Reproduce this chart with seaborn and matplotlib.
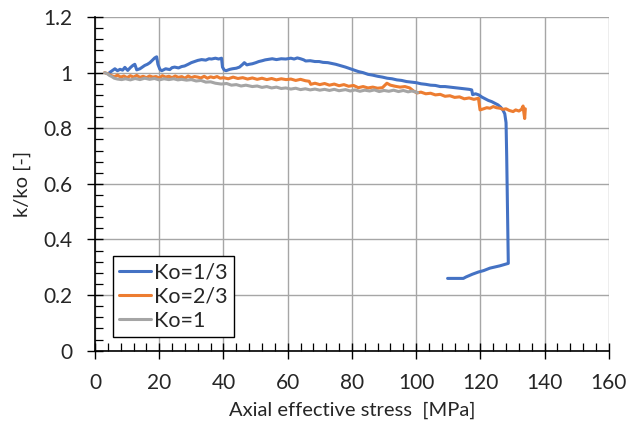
import numpy as np
import pandas as pd
import matplotlib
matplotlib.use("Agg")
import matplotlib.pyplot as plt
import seaborn as sns
from matplotlib.ticker import MultipleLocator

# ---------------- data ----------------
blue_x = [4.5, 5.5, 6.2, 7.0, 7.8, 8.6, 9.3, 10.2, 11.0, 11.8, 12.4, 13.0, 14.0, 15.0, 15.5,
          16.3, 17.1, 17.9, 18.6, 19.2, 19.6, 20.2, 20.8, 22.0, 23.3, 24.0, 24.8, 26.0, 27.0,
          27.9, 29.0, 30.0, 31.0, 32.0, 33.2, 34.5, 35.5, 36.3, 37.5, 38.5, 39.4, 39.7, 40.2,
          40.8, 42.0, 42.8, 44.0, 45.0, 46.0, 46.5, 47.3, 48.0, 49.0, 50.1, 51.0, 52.1, 53.0,
          54.0, 55.2, 56.5, 58.0, 59.4, 61.0, 62.0, 63.0, 64.0, 65.0, 65.6, 67.0, 68.5, 69.8,
          71.0, 72.5, 73.8, 75.0, 76.5, 78.0, 79.0, 80.6, 82.0, 83.5, 85.0, 86.5, 88.0, 89.5,
          91.0, 92.5, 94.0, 95.5, 97.0, 98.5, 100.0, 101.5, 103.0, 104.5, 106.0, 107.5, 109.0,
          110.5, 112.0, 113.5, 115.0, 116.5, 117.3, 117.6, 118.5, 119.5, 120.5, 121.5, 122.5,
          123.5, 124.5, 125.5, 126.3, 127.0, 127.6, 128.0, 128.2, 128.4, 128.6, 128.7, 126.0,
          123.0, 121.0, 119.4, 117.5, 115.5, 114.7, 112.0, 109.8]
blue_y = [1.000, 1.008, 1.014, 1.007, 1.012, 1.009, 1.019, 1.008, 1.018, 1.026, 1.030, 1.010,
          1.014, 1.022, 1.026, 1.030, 1.036, 1.045, 1.053, 1.057, 1.030, 1.012, 1.007, 1.014,
          1.011, 1.018, 1.020, 1.017, 1.022, 1.024, 1.030, 1.036, 1.040, 1.044, 1.047, 1.045,
          1.050, 1.049, 1.052, 1.049, 1.052, 1.020, 1.010, 1.007, 1.012, 1.014, 1.016, 1.020,
          1.030, 1.036, 1.028, 1.030, 1.032, 1.036, 1.040, 1.043, 1.046, 1.048, 1.050, 1.047,
          1.050, 1.049, 1.052, 1.049, 1.053, 1.050, 1.046, 1.042, 1.043, 1.040, 1.040, 1.037,
          1.036, 1.033, 1.030, 1.025, 1.020, 1.016, 1.010, 1.004, 1.000, 0.994, 0.991, 0.987,
          0.984, 0.980, 0.978, 0.974, 0.972, 0.968, 0.966, 0.964, 0.960, 0.958, 0.955, 0.954,
          0.950, 0.950, 0.948, 0.946, 0.944, 0.942, 0.940, 0.938, 0.921, 0.924, 0.920, 0.912,
          0.906, 0.900, 0.896, 0.890, 0.884, 0.876, 0.866, 0.852, 0.820, 0.700, 0.550, 0.400,
          0.314, 0.305, 0.297, 0.288, 0.283, 0.275, 0.265, 0.260, 0.260, 0.260]

orange_x = [3.0, 4.0, 5.0, 6.0, 7.0, 8.0, 9.0, 10.0, 11.0, 12.0, 13.0, 14.0, 15.0, 16.0, 17.0,
            18.0, 19.0, 20.0, 21.0, 22.0, 23.0, 24.0, 25.0, 26.0, 27.0, 28.0, 29.0, 30.0, 31.0,
            32.0, 33.0, 34.0, 35.0, 36.0, 37.0, 38.0, 39.0, 40.0, 41.5, 43.0, 44.5, 46.0, 47.5,
            49.0, 50.5, 52.0, 53.5, 55.0, 56.5, 58.0, 59.5, 61.0, 62.5, 64.0, 65.5, 66.7, 67.2,
            68.5, 70.0, 71.5, 73.0, 74.5, 76.0, 77.5, 79.0, 80.5, 82.0, 83.5, 85.0, 86.5, 88.0,
            89.5, 90.9, 92.0, 93.5, 95.0, 96.5, 98.0, 99.2, 100.3, 101.5, 103.0, 104.5, 106.0,
            107.5, 109.0, 110.5, 112.0, 113.5, 115.0, 116.5, 118.0, 119.4, 119.9, 121.0, 122.0,
            123.0, 124.0, 125.0, 126.1, 127.0, 128.0, 129.0, 130.2, 131.0, 132.0, 132.8, 133.3,
            133.5, 133.8, 134.0]
orange_y = [1.000, 0.996, 0.990, 0.985, 0.991, 0.984, 0.988, 0.982, 0.989, 0.984, 0.990, 0.983,
            0.987, 0.982, 0.988, 0.984, 0.986, 0.981, 0.989, 0.984, 0.987, 0.982, 0.988, 0.983,
            0.986, 0.980, 0.988, 0.982, 0.986, 0.984, 0.981, 0.987, 0.980, 0.985, 0.982, 0.986,
            0.980, 0.982, 0.978, 0.984, 0.979, 0.982, 0.977, 0.981, 0.976, 0.980, 0.975, 0.979,
            0.974, 0.978, 0.975, 0.977, 0.972, 0.976, 0.971, 0.969, 0.958, 0.962, 0.957, 0.961,
            0.955, 0.959, 0.953, 0.957, 0.951, 0.954, 0.946, 0.950, 0.945, 0.948, 0.944, 0.946,
            0.962, 0.955, 0.951, 0.948, 0.950, 0.945, 0.934, 0.927, 0.930, 0.924, 0.926, 0.920,
            0.922, 0.915, 0.917, 0.911, 0.913, 0.906, 0.909, 0.904, 0.908, 0.866, 0.870, 0.874,
            0.872, 0.878, 0.874, 0.872, 0.868, 0.870, 0.864, 0.860, 0.866, 0.862, 0.868, 0.880,
            0.860, 0.835, 0.870]

gray_x = [3.0, 4.0, 4.5, 5.2, 6.0, 7.0, 8.3, 9.5, 11.0, 12.5, 14.0, 15.5, 17.0, 18.5, 20.0,
          21.5, 23.0, 24.5, 25.8, 27.0, 28.5, 30.0, 31.5, 33.0, 34.5, 36.0, 37.5, 39.3, 41.0,
          42.5, 44.0, 45.5, 47.0, 49.0, 50.5, 52.0, 53.5, 55.0, 56.5, 58.0, 59.4, 61.0, 62.5,
          64.0, 65.5, 67.0, 68.5, 70.0, 71.5, 73.0, 74.5, 76.0, 78.0, 79.5, 81.0, 82.5, 84.0,
          85.5, 87.0, 88.5, 90.0, 91.5, 93.0, 94.5, 96.0, 97.5, 98.7, 100.0, 100.5]
gray_y = [1.000, 0.995, 0.990, 0.986, 0.980, 0.977, 0.975, 0.978, 0.974, 0.979, 0.975, 0.980,
          0.976, 0.979, 0.974, 0.978, 0.975, 0.978, 0.974, 0.976, 0.973, 0.975, 0.970, 0.972,
          0.966, 0.967, 0.962, 0.959, 0.961, 0.955, 0.957, 0.952, 0.955, 0.950, 0.952, 0.947,
          0.950, 0.945, 0.948, 0.943, 0.945, 0.941, 0.944, 0.939, 0.942, 0.938, 0.941, 0.937,
          0.940, 0.936, 0.940, 0.935, 0.939, 0.934, 0.938, 0.933, 0.937, 0.934, 0.938, 0.932,
          0.936, 0.933, 0.937, 0.932, 0.936, 0.931, 0.934, 0.930, 0.928]

labels = ["Ko=1/3", "Ko=2/3", "Ko=1"]
colors = ["#4472C4", "#ED7D31", "#A5A5A5"]

x_ticks = [0, 20, 40, 60, 80, 100, 120, 140, 160]
y_ticks = [0, 0.2, 0.4, 0.6, 0.8, 1, 1.2]
y_tick_labels = ["0", "0.2", "0.4", "0.6", "0.8", "1", "1.2"]

# ---------------- plotting ----------------
sns.set_theme(style="white")
plt.rcParams["font.family"] = ["Lato", "DejaVu Sans"]

fig = plt.figure(figsize=(6.27, 4.21), dpi=100)
ax = fig.add_axes([0.1515, 0.167, 0.8195, 0.7925])

series = [(blue_x, blue_y), (orange_x, orange_y), (gray_x, gray_y)]
for (xs, ys), lab, col in zip(series, labels, colors):
    df = pd.DataFrame({"x": xs, "y": ys})
    sns.lineplot(data=df, x="x", y="y", ax=ax, sort=False, estimator=None,
                 color=col, linewidth=2.2, label=lab)

ax.set_xlim(0, 160)
ax.set_ylim(0, 1.2)
ax.set_xticks(x_ticks)
ax.set_xticklabels([str(t) for t in x_ticks])
ax.set_yticks(y_ticks)
ax.set_yticklabels(y_tick_labels)
ax.xaxis.set_minor_locator(MultipleLocator(4))
ax.yaxis.set_minor_locator(MultipleLocator(0.04))

ax.grid(True, which="major", color="#a6a6a6", linewidth=1.0)
ax.set_axisbelow(True)
for s in ["top", "right"]:
    ax.spines[s].set_visible(False)
for s in ["left", "bottom"]:
    ax.spines[s].set_color("black")
    ax.spines[s].set_linewidth(1.2)
    ax.spines[s].set_zorder(5)

ax.tick_params(which="major", direction="inout", length=12, width=1.0, color="black",
               labelsize=15, pad=10, left=True, bottom=True)
ax.tick_params(which="minor", direction="in", length=6, width=0.9, color="black",
               left=True, bottom=True)

ax.set_xlabel("Axial effective stress  [MPa]", fontsize=14.5, labelpad=6)
ax.set_ylabel("k/ko [-]", fontsize=14.5, labelpad=9)

leg = ax.legend(loc="lower left", bbox_to_anchor=(0.035, 0.041), borderaxespad=0,
                fontsize=15.5, frameon=True, fancybox=False, handlelength=1.45,
                handletextpad=0.15, labelspacing=0.18, borderpad=0.3)
leg.get_frame().set_edgecolor("black")
leg.get_frame().set_linewidth(1.0)
leg.get_frame().set_alpha(1)

fig.savefig("out.png", dpi=100)
